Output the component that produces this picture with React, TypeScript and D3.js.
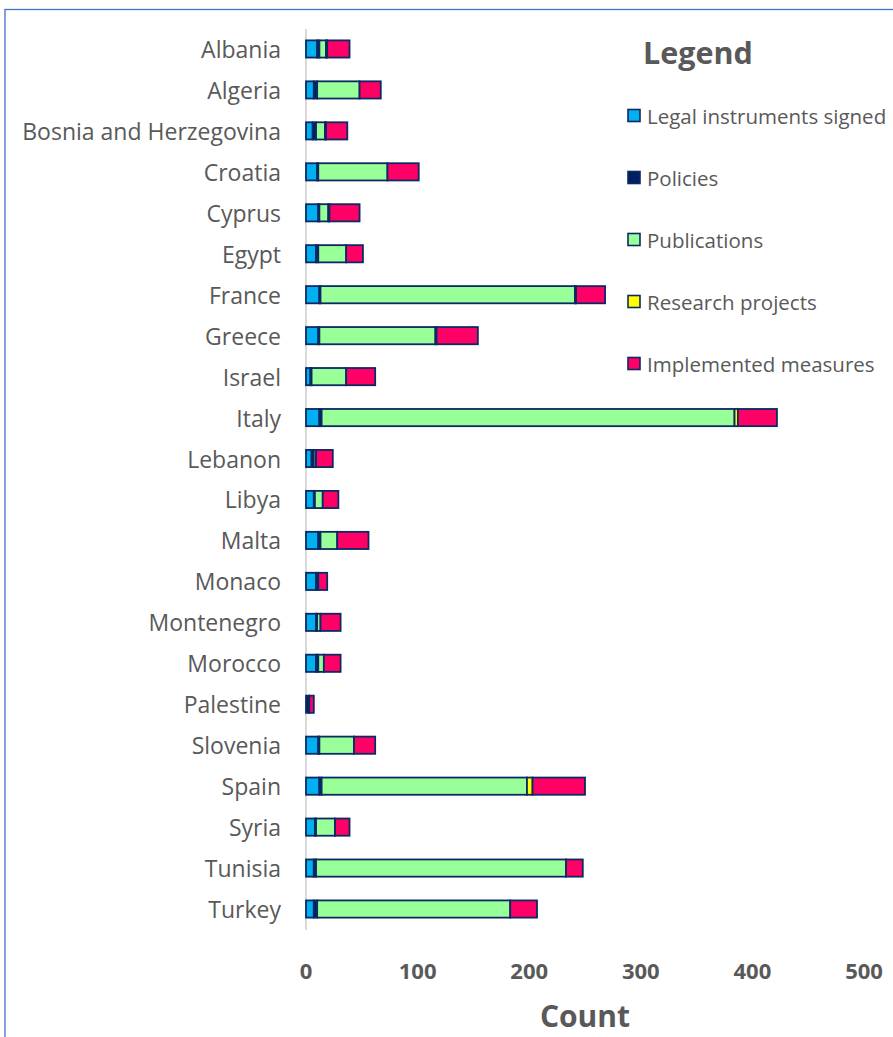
import React from "react";
import * as d3 from "d3";

const countries = [
  "Albania", "Algeria", "Bosnia and Herzegovina", "Croatia", "Cyprus", "Egypt",
  "France", "Greece", "Israel", "Italy", "Lebanon", "Libya", "Malta", "Monaco",
  "Montenegro", "Morocco", "Palestine", "Slovenia", "Spain", "Syria", "Tunisia", "Turkey",
];
const seriesNames = [
  "Legal instruments signed", "Policies", "Publications", "Research projects", "Implemented measures",
];
const legalInstruments = [10, 7, 6, 10, 11, 9, 12, 11, 4, 12, 5, 7, 11, 9, 9, 9, 0, 11, 12, 8, 7, 7];
const policies = [2, 3, 3, 1, 1, 2, 1, 1, 1, 2, 2, 1, 2, 2, 1, 2, 3, 1, 2, 1, 2, 3];
const publications = [6, 38, 8, 62, 8, 25, 228, 104, 31, 370, 2, 7, 15, 0, 3, 5, 0, 31, 184, 17, 224, 173];
const researchProjects = [1, 0, 1, 0, 1, 0, 1, 1, 0, 3, 0, 0, 0, 0, 0, 0, 0, 0, 5, 0, 0, 0];
const implementedMeasures = [20, 19, 19, 28, 27, 15, 26, 37, 26, 35, 15, 14, 28, 8, 18, 15, 4, 19, 47, 13, 15, 24];
const xTicks = [0, 100, 200, 300, 400, 500];
const colors = ["#00b0f0", "#002060", "#99ff99", "#ffff00", "#ff0066"];

const W = 893;
const H = 1037;
const FONT = "'Open Sans', sans-serif";
const TEXT = "#595959";

export default function App() {
  const seriesValues = [legalInstruments, policies, publications, researchProjects, implementedMeasures];
  const rows = countries.map((c, i) => {
    const r: any = { country: c };
    seriesNames.forEach((s, k) => (r[s] = seriesValues[k][i]));
    return r;
  });
  const stacked = d3.stack<any>().keys(seriesNames)(rows);

  const x = d3.scaleLinear().domain([0, 500]).range([306, 864]);
  const y = d3.scaleBand<string>().domain(countries).range([28.5, 929.5]).paddingInner(0.58).paddingOuter(0.29);

  return (
    <svg width={W} height={H} style={{ position: "absolute", left: 0, top: 0, background: "#fff" }}>
      <rect x={0} y={0} width={W} height={H} fill="#fff" />
      <rect x={5} y={9.5} width={W + 20} height={H + 20} fill="none" stroke="#4472c4" strokeWidth={1.3} />
      <line x1={x(0)} x2={x(0)} y1={29} y2={930} stroke="#d9d9d9" strokeWidth={2} />
      {countries.map((c) => (
        <text key={c} x={281} y={(y(c) as number) + y.bandwidth() / 2} textAnchor="end" dominantBaseline="central"
          fontFamily={FONT} fontSize={23} fill={TEXT}>{c}</text>
      ))}
      {stacked.map((layer, k) => (
        <g key={layer.key}>
          {layer.map((d, i) =>
            d[1] - d[0] > 0 ? (
              <rect key={i} x={x(d[0])} y={y(countries[i])} width={x(d[1]) - x(d[0])} height={y.bandwidth()}
                fill={colors[k]} stroke="#0b2a63" strokeWidth={1.8} />
            ) : null
          )}
        </g>
      ))}
      {xTicks.map((t) => (
        <text key={t} x={x(t)} y={970} textAnchor="middle" dominantBaseline="central"
          fontFamily={FONT} fontSize={22} fontWeight="bold" fill={TEXT}>{t}</text>
      ))}
      <text x={585} y={1015} textAnchor="middle" dominantBaseline="central" fontFamily={FONT}
        fontSize={30} fontWeight="bold" fill={TEXT}>Count</text>
      <text x={643} y={52} dominantBaseline="central" fontFamily={FONT} fontSize={30.5} fontWeight="bold" fill={TEXT}>Legend</text>
      {seriesNames.map((s, k) => (
        <g key={s} transform={`translate(0, ${116 + k * 62})`}>
          <rect x={628} y={-6.5} width={12} height={12} fill={colors[k]} stroke="#0b2a63" strokeWidth={1.6} />
          <text x={647} y={0} dominantBaseline="central" fontFamily={FONT} fontSize={20.5} fill={TEXT}>{s}</text>
        </g>
      ))}
    </svg>
  );
}
